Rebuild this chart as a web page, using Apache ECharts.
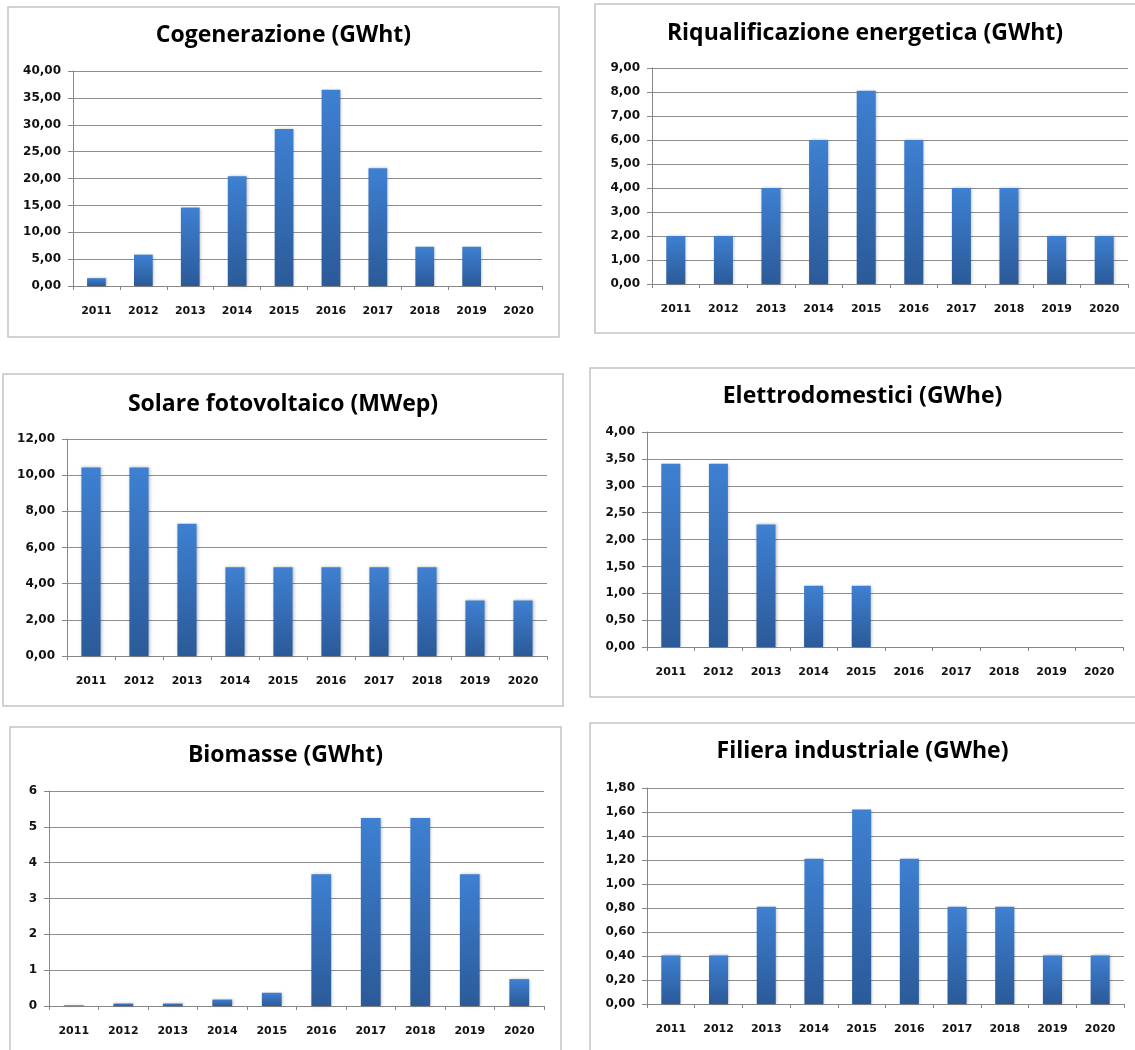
<!DOCTYPE html>
<html>
<head>
<meta charset="utf-8">
<script src="https://cdn.jsdelivr.net/npm/echarts@6/dist/echarts.min.js"></script>
<style>
  html, body { margin: 0; padding: 0; background: #ffffff; }
  #chart { width: 1135px; height: 1050px; }
</style>
</head>
<body>
<div id="chart"></div>
<script>
// Years shared by all six panels
const years = ['2011', '2012', '2013', '2014', '2015', '2016', '2017', '2018', '2019', '2020'];

// Yearly values per measure
const cogenerazione = [1.46, 5.84, 14.6, 20.44, 29.2, 36.5, 21.9, 7.3, 7.3, 0];
const riqualificazione = [2, 2, 4, 6, 8.05, 6, 4, 4, 2, 2];
const fotovoltaico = [10.43, 10.43, 7.32, 4.91, 4.91, 4.91, 4.91, 4.91, 3.07, 3.07];
const elettrodomestici = [3.41, 3.41, 2.28, 1.14, 1.14, 0, 0, 0, 0, 0];
const biomasse = [0.02, 0.07, 0.07, 0.18, 0.37, 3.68, 5.25, 5.25, 3.68, 0.75];
const filiera = [0.405, 0.405, 0.81, 1.21, 1.62, 1.21, 0.81, 0.81, 0.405, 0.405];

// Panel titles
const titles = [
  'Cogenerazione (GWht)',
  'Riqualificazione energetica (GWht)',
  'Solare fotovoltaico (MWep)',
  'Elettrodomestici (GWhe)',
  'Biomasse (GWht)',
  'Filiera industriale (GWhe)'
];

// Value axis scales
const axisMax = [40, 9, 12, 4, 6, 1.8];
const axisStep = [5, 1, 2, 0.5, 1, 0.2];
const axisDecimals = [2, 2, 2, 2, 0, 2];

const seriesData = [cogenerazione, riqualificazione, fotovoltaico, elettrodomestici, biomasse, filiera];

// Layout of each panel: frame box, plot area (absolute px), title centre y
const layout = [
  { box: [8, 7, 551, 330],   plot: [73, 71, 542, 286],   ty: 35 },
  { box: [595, 4, 560, 329], plot: [652, 68, 1128, 284], ty: 33 },
  { box: [3, 374, 560, 332], plot: [67, 439, 547, 656],  ty: 404 },
  { box: [590, 368, 560, 329], plot: [647, 432, 1123, 647], ty: 396 },
  { box: [10, 727, 551, 330], plot: [49, 791, 544, 1006], ty: 755 },
  { box: [590, 723, 560, 330], plot: [647, 788, 1124, 1004], ty: 751 }
];

const W = 1135, H = 1050;
const axisGray = '#868686';
const gridGray = '#8e8e8e';
const labelFont = 'DejaVu Sans';
const titleFont = '"Open Sans"';

const barColor = new echarts.graphic.LinearGradient(0, 0, 0, 1, [
  { offset: 0, color: '#3e80d2' },
  { offset: 1, color: '#2b5a98' }
]);

const option = {
  backgroundColor: '#ffffff',
  animation: false,
  grid: [],
  xAxis: [],
  yAxis: [],
  series: [],
  graphic: []
};

layout.forEach((p, i) => {
  const [bx, by, bw, bh] = p.box;
  const [x0, y0, x1, y1] = p.plot;

  // panel frame
  option.graphic.push({
    type: 'rect',
    shape: { x: bx, y: by, width: bw, height: bh },
    style: { fill: 'none', stroke: '#c4c4c4', lineWidth: 1.5 },
    z: 0
  });

  // panel title, centred on the visible part of the frame
  option.graphic.push({
    type: 'text',
    x: bx + Math.min(bw, W - bx) / 2,
    y: p.ty,
    style: {
      text: titles[i],
      font: 'bold 23px ' + titleFont,
      fill: '#000000',
      align: 'center',
      verticalAlign: 'middle'
    },
    z: 5
  });

  option.grid.push({
    left: x0, top: y0, width: x1 - x0, height: y1 - y0,
    containLabel: false
  });

  option.xAxis.push({
    type: 'category',
    gridIndex: i,
    data: years,
    boundaryGap: true,
    axisLine: { show: true, lineStyle: { color: axisGray, width: 1 } },
    axisTick: { show: true, alignWithLabel: false, length: 4, lineStyle: { color: axisGray } },
    axisLabel: {
      interval: 0,
      margin: 20,
      color: '#111111',
      fontFamily: labelFont,
      fontWeight: 'bold',
      fontSize: 11
    },
    splitLine: { show: false }
  });

  const dec = axisDecimals[i];
  option.yAxis.push({
    type: 'value',
    gridIndex: i,
    min: 0,
    max: axisMax[i],
    interval: axisStep[i],
    axisLine: { show: true, lineStyle: { color: axisGray, width: 1 } },
    axisTick: { show: true, length: 5, lineStyle: { color: axisGray } },
    axisLabel: {
      margin: 12,
      color: '#111111',
      fontFamily: labelFont,
      fontWeight: 'bold',
      fontSize: 12,
      formatter: v => v.toFixed(dec).replace('.', ',')
    },
    splitLine: { show: true, lineStyle: { color: gridGray, width: 1 } }
  });

  option.series.push({
    type: 'bar',
    xAxisIndex: i,
    yAxisIndex: i,
    data: seriesData[i],
    barWidth: '40%',
    itemStyle: {
      color: barColor,
      shadowColor: 'rgba(0,0,0,0.25)',
      shadowBlur: 3,
      shadowOffsetX: 1,
      shadowOffsetY: 0
    },
    z: 3
  });
});

const chart = echarts.init(document.getElementById('chart'), null, { renderer: 'canvas', width: W, height: H });
chart.setOption(option);
</script>
</body>
</html>
